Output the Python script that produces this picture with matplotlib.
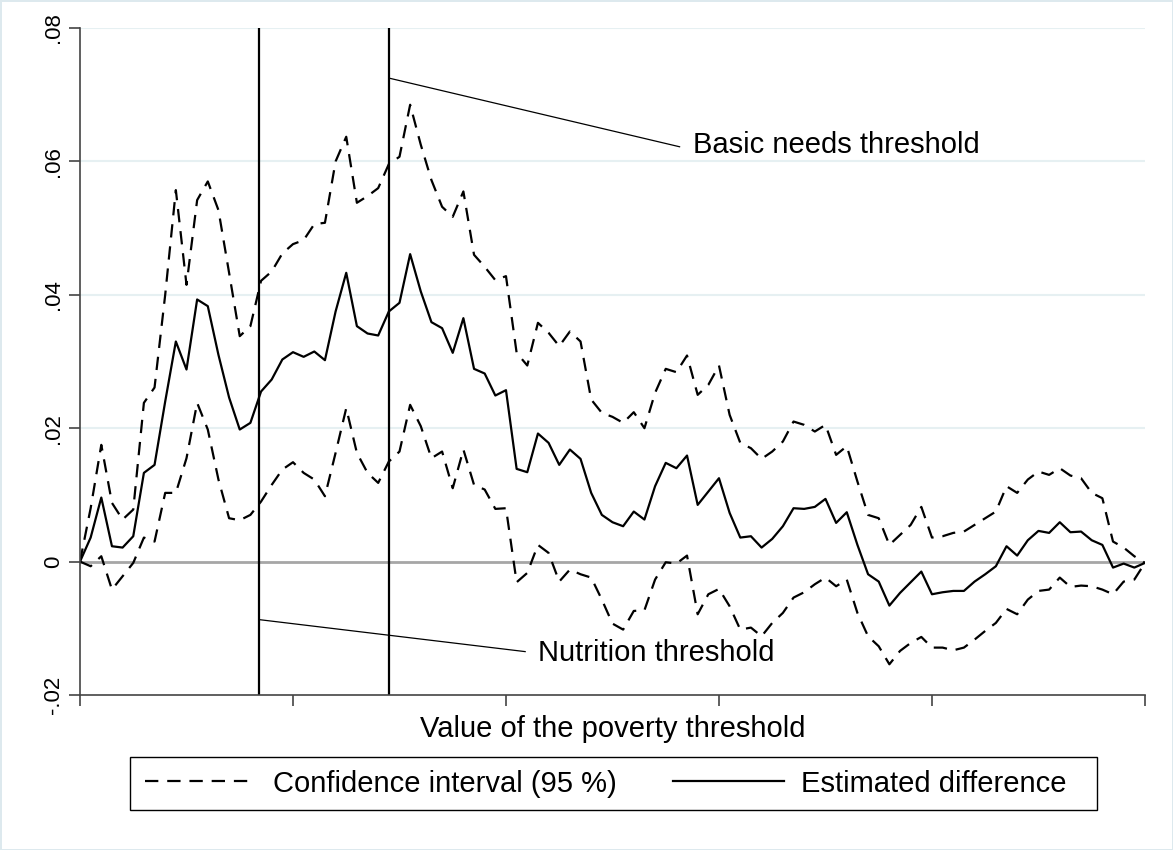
import numpy as np
import matplotlib
matplotlib.use('Agg')
import matplotlib.pyplot as plt
from matplotlib.patches import Rectangle

plt.rcParams['font.family'] = ['Liberation Sans', 'DejaVu Sans']

# Estimated difference and 95% band (101 steps)
estimate = [0.0, 0.0036, 0.0096, 0.0023, 0.0021, 0.0038, 0.0133, 0.0145, 0.0240, 0.0330,
            0.0288, 0.0393, 0.0383, 0.0310, 0.0246, 0.0198, 0.0208, 0.0255, 0.0273, 0.0303,
            0.0314, 0.0307, 0.0315, 0.0302, 0.0375, 0.0433, 0.0353, 0.0342, 0.0339, 0.0375,
            0.0388, 0.0461, 0.0405, 0.0359, 0.0350, 0.0313, 0.0365, 0.0289, 0.0282, 0.0249,
            0.0257, 0.0139, 0.0134, 0.0192, 0.0178, 0.0145, 0.0168, 0.0154, 0.0103, 0.0070,
            0.0059, 0.0053, 0.0075, 0.0063, 0.0113, 0.0148, 0.0140, 0.0159, 0.0085, 0.0105,
            0.0125, 0.0073, 0.0036, 0.0038, 0.0021, 0.0034, 0.0053, 0.0080, 0.0079, 0.0082,
            0.0094, 0.0058, 0.0074, 0.0025, -0.0019, -0.0030, -0.0066, -0.0047, -0.0031, -0.0015,
            -0.0049, -0.0046, -0.0044, -0.0044, -0.0030, -0.0019, -0.0007, 0.0023, 0.0009, 0.0032,
            0.0046, 0.0043, 0.0059, 0.0044, 0.0045, 0.0032, 0.0025, -0.0009, -0.0003, -0.0009,
            -0.0002]

ci_upper = [0.0, 0.0080, 0.0175, 0.0088, 0.0063, 0.0078, 0.0238, 0.0261, 0.0400, 0.0557,
            0.0415, 0.0542, 0.0570, 0.0527, 0.0433, 0.0338, 0.0353, 0.0421, 0.0435, 0.0462,
            0.0476, 0.0482, 0.0506, 0.0508, 0.0600, 0.0637, 0.0538, 0.0548, 0.0560, 0.0596,
            0.0607, 0.0685, 0.0625, 0.0572, 0.0532, 0.0517, 0.0555, 0.0460, 0.0442, 0.0422,
            0.0428, 0.0313, 0.0294, 0.0358, 0.0343, 0.0323, 0.0345, 0.0330, 0.0243, 0.0223,
            0.0217, 0.0208, 0.0224, 0.0200, 0.0253, 0.0289, 0.0284, 0.0309, 0.0250, 0.0265,
            0.0294, 0.0220, 0.0178, 0.0170, 0.0154, 0.0165, 0.0180, 0.0210, 0.0205, 0.0195,
            0.0205, 0.0160, 0.0173, 0.0120, 0.0070, 0.0065, 0.0025, 0.0040, 0.0055, 0.0082,
            0.0036, 0.0038, 0.0043, 0.0045, 0.0055, 0.0065, 0.0075, 0.0113, 0.0103, 0.0123,
            0.0135, 0.0130, 0.0140, 0.0129, 0.0125, 0.0103, 0.0095, 0.0030, 0.0021, 0.0008,
            -0.0002]

ci_lower = [0.0, -0.0007, 0.0008, -0.0042, -0.0022, -0.0002, 0.0036, 0.0030, 0.0103, 0.0103,
            0.0155, 0.0238, 0.0198, 0.0123, 0.0065, 0.0062, 0.0070, 0.0090, 0.0115, 0.0138,
            0.0149, 0.0133, 0.0123, 0.0098, 0.0163, 0.0230, 0.0163, 0.0133, 0.0118, 0.0150,
            0.0165, 0.0235, 0.0203, 0.0155, 0.0165, 0.0110, 0.0168, 0.0115, 0.0108, 0.0079,
            0.0080, -0.0031, -0.0017, 0.0025, 0.0013, -0.0030, -0.0012, -0.0019, -0.0024, -0.0057,
            -0.0093, -0.0102, -0.0074, -0.0073, -0.0027, -0.0001, -0.0003, 0.0009, -0.0079, -0.0049,
            -0.0041, -0.0067, -0.0102, -0.0099, -0.0112, -0.0092, -0.0077, -0.0054, -0.0046, -0.0034,
            -0.0024, -0.0037, -0.0027, -0.0077, -0.0112, -0.0127, -0.0154, -0.0134, -0.0122, -0.0113,
            -0.0129, -0.0129, -0.0133, -0.0129, -0.0117, -0.0104, -0.0092, -0.0071, -0.0079, -0.0057,
            -0.0044, -0.0042, -0.0024, -0.0038, -0.0036, -0.0037, -0.0042, -0.0049, -0.0030, -0.0027,
            -0.0002]

thresholds = [16.8, 29.0]
y_ticks = [-0.02, 0, 0.02, 0.04, 0.06, 0.08]
y_labels = ['-.02', '0', '.02', '.04', '.06', '.08']
x_ticks = [0, 20, 40, 60, 80, 100]

x = np.arange(len(estimate))
FS = 21
W, H = 1173, 850

fig = plt.figure(figsize=(11.73, 8.5), dpi=100)
fig.patch.set_edgecolor('#dde9ee')
fig.patch.set_linewidth(2)
ax = fig.add_axes([0.0682, 0.1824, 0.9079, 0.7846])

for g in [0.02, 0.04, 0.06, 0.08]:
    ax.axhline(g, color='#e6f0f2', lw=1.5, zorder=0)
ax.axhline(0, color='#a6a6a6', lw=2, zorder=1)

dash = (6, 4)
ax.plot(x, ci_upper, color='black', lw=1.6, dashes=dash, label='Confidence interval (95 %)')
ax.plot(x, ci_lower, color='black', lw=1.6, dashes=dash)
ax.plot(x, estimate, color='black', lw=1.6, label='Estimated difference')

for t in thresholds:
    ax.axvline(t, color='black', lw=1.6)

# annotations
ax.plot([29.0, 56.3], [0.0725, 0.0622], color='black', lw=0.9)
ax.text(57.6, 0.0625, 'Basic needs threshold', fontsize=FS, va='center', ha='left')
ax.plot([16.8, 41.8], [-0.0087, -0.0135], color='black', lw=0.9)
ax.text(43.0, -0.0137, 'Nutrition threshold', fontsize=FS, va='center', ha='left')

ax.set_xlim(0, 100)
ax.set_ylim(-0.02, 0.08)
ax.set_xticks(x_ticks)
ax.set_xticklabels([])
ax.set_yticks(y_ticks)
ax.set_yticklabels(y_labels, rotation=90, va='center', fontsize=16)
ax.tick_params(direction='out', length=8, width=1.2, color='#444444')
ax.spines['top'].set_visible(False)
ax.spines['right'].set_visible(False)
ax.spines['left'].set_color('#444444')
ax.spines['bottom'].set_color('#444444')
ax.spines['left'].set_linewidth(1.2)
ax.spines['bottom'].set_linewidth(1.2)
ax.set_xlabel('Value of the poverty threshold', fontsize=FS, labelpad=3)

# legend: frame drawn separately so its size matches the original box
handles, labels = ax.get_legend_handles_labels()
leg = fig.legend(handles, labels, loc='center left',
                 bbox_to_anchor=(145 / W, 1 - 783.5 / H),
                 ncol=2, fontsize=FS, handlelength=3.8, handletextpad=0.58,
                 columnspacing=1.95, borderpad=0, borderaxespad=0,
                 frameon=False)
fig.patches.append(Rectangle((130 / W, 1 - 810 / H), 967 / W, 53 / H,
                             transform=fig.transFigure, fill=False,
                             edgecolor='black', linewidth=1.0))

fig.savefig('out.png', dpi=100)
